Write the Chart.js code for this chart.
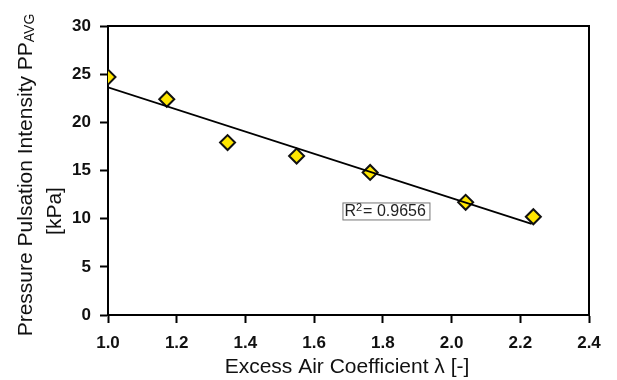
<!DOCTYPE html>
<html>
<head>
<meta charset="utf-8">
<script src="https://cdn.jsdelivr.net/npm/chart.js@4"></script>
<style>
  html, body { margin: 0; padding: 0; background: #fff; }
  #wrap { width: 617px; height: 380px; }
</style>
</head>
<body>
<div id="wrap"><canvas id="chart" width="617" height="380"></canvas></div>
<script>
// measured points (excess air coefficient vs pressure pulsation intensity)
const lambdaValues = [1.0, 1.171, 1.348, 1.549, 1.763, 2.041, 2.238];
const ppAvgValues = [24.7, 22.4, 17.9, 16.5, 14.8, 11.7, 10.2];

// linear trend line end points
const trendLambda = [1.0, 2.233];
const trendPP = [23.64, 9.45];

const rSquaredText = "0.9656";
const xTitle = "Excess Air Coefficient λ [-]";

const FONT = "'Liberation Sans', Arial, sans-serif";

// frame round the plot + axis titles + R2 box
const extrasPlugin = {
  id: "extras",
  beforeDatasetsDraw(chart) {
    const ctx = chart.ctx;
    const a = chart.chartArea;
    ctx.save();
    ctx.strokeStyle = "#000";
    ctx.lineWidth = 2;
    ctx.strokeRect(a.left, a.top, a.right - a.left, a.bottom - a.top);
    ctx.restore();
  },
  afterDraw(chart) {
    const ctx = chart.ctx;
    const xs = chart.scales.x;
    const ys = chart.scales.y;
    ctx.save();
    ctx.fillStyle = "#111";

    // x title
    ctx.font = "21px " + FONT;
    ctx.textAlign = "center";
    ctx.textBaseline = "middle";
    ctx.fillText(xTitle, 347, 367);

    // y title, two lines, rotated
    ctx.save();
    ctx.translate(26, 175);
    ctx.rotate(-Math.PI / 2);
    const main = "Pressure Pulsation Intensity PP";
    const sub = "AVG";
    ctx.font = "21px " + FONT;
    const wMain = ctx.measureText(main).width;
    ctx.font = "14px " + FONT;
    const wSub = ctx.measureText(sub).width;
    const total = wMain + wSub;
    ctx.textAlign = "left";
    ctx.textBaseline = "middle";
    ctx.font = "21px " + FONT;
    ctx.fillText(main, -total / 2, 0);
    ctx.font = "14px " + FONT;
    ctx.fillText(sub, -total / 2 + wMain, 4);
    ctx.restore();

    ctx.save();
    ctx.translate(55, 211);
    ctx.rotate(-Math.PI / 2);
    ctx.font = "21px " + FONT;
    ctx.textAlign = "center";
    ctx.textBaseline = "middle";
    ctx.fillText("[kPa]", 0, 0);
    ctx.restore();

    // R2 label
    const cx = xs.getPixelForValue(1.809);
    const cy = ys.getPixelForValue(10.8);
    const w = 87, h = 17;
    ctx.strokeStyle = "#777";
    ctx.lineWidth = 1;
    ctx.fillStyle = "#fff";
    ctx.fillRect(cx - w / 2, cy - h / 2, w, h);
    ctx.strokeRect(cx - w / 2 + 0.5, cy - h / 2 + 0.5, w, h);
    ctx.fillStyle = "#222";
    ctx.textAlign = "left";
    ctx.textBaseline = "middle";
    ctx.font = "16px " + FONT;
    let x = cx - w / 2 + 2;
    ctx.fillText("R", x, cy + 1);
    x += ctx.measureText("R").width;
    ctx.font = "11px " + FONT;
    ctx.fillText("2", x, cy - 3);
    x += ctx.measureText("2").width;
    ctx.font = "16px " + FONT;
    ctx.fillText("= " + rSquaredText, x + 1, cy + 1);
    ctx.restore();
  }
};

new Chart(document.getElementById("chart"), {
  type: "scatter",
  data: {
    datasets: [
      {
        type: "line",
        label: "trend",
        data: trendLambda.map((l, i) => ({ x: l, y: trendPP[i] })),
        borderColor: "#000",
        borderWidth: 1.8,
        pointRadius: 0,
        fill: false,
      },
      {
        label: "PP avg",
        data: lambdaValues.map((l, i) => ({ x: l, y: ppAvgValues[i] })),
        pointStyle: "rectRot",
        pointRadius: 7.5,
        pointBackgroundColor: "#FFE600",
        pointBorderColor: "#111",
        pointBorderWidth: 2,
      },
    ],
  },
  options: {
    responsive: false,
    animation: false,
    layout: { padding: { left: 0, top: 26, right: 28, bottom: 0 } },
    plugins: {
      legend: { display: false },
      tooltip: { enabled: false },
    },
    scales: {
      x: {
        type: "linear",
        min: 1.0,
        max: 2.4,
        afterFit: (s) => { s.height = 65; },
        ticks: {
          stepSize: 0.2,
          padding: 10,
          color: "#111",
          font: { family: FONT, size: 17, weight: "bold" },
          callback: (v) => v.toFixed(1),
        },
        grid: { drawOnChartArea: false, drawTicks: true, tickLength: 8, tickColor: "#000", tickWidth: 2 },
        border: { color: "#000", width: 2 },
      },
      y: {
        min: 0,
        max: 30,
        afterFit: (s) => { s.width = 108; },
        ticks: {
          stepSize: 5,
          padding: 9,
          color: "#111",
          font: { family: FONT, size: 17, weight: "bold" },
        },
        grid: { drawOnChartArea: false, drawTicks: true, tickLength: 8, tickColor: "#000", tickWidth: 2 },
        border: { color: "#000", width: 2 },
      },
    },
  },
  plugins: [extrasPlugin],
});
</script>
</body>
</html>
